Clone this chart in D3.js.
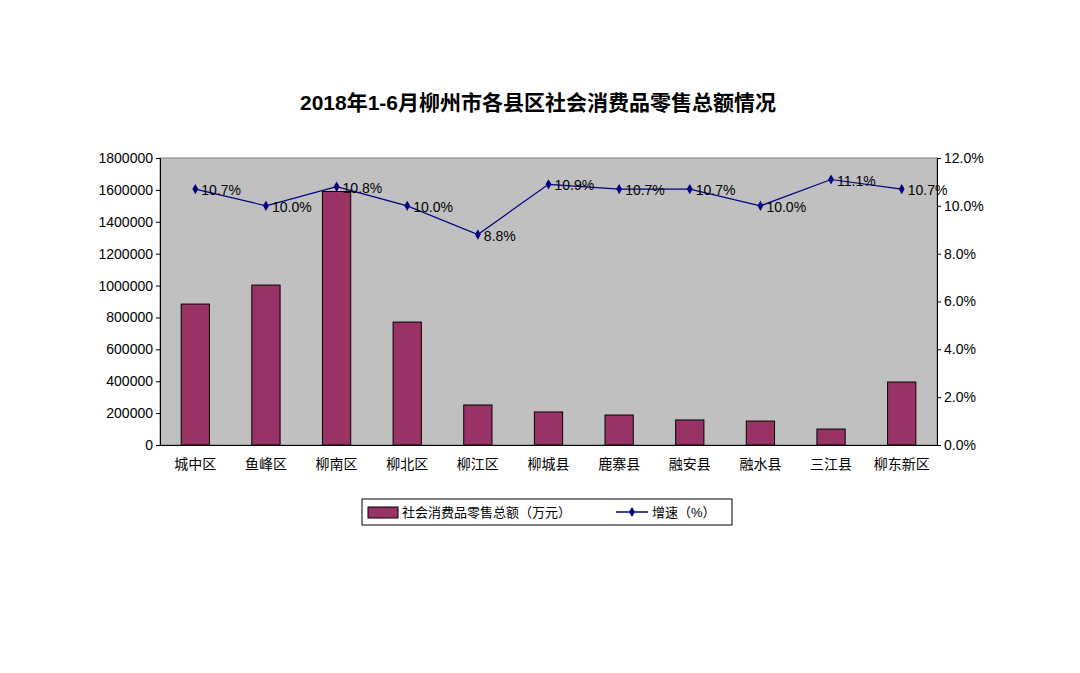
<!DOCTYPE html>
<html><head><meta charset="utf-8">
<script src="https://cdn.jsdelivr.net/npm/d3@7"></script>
<style>body{margin:0;background:#fff}text{font-family:"Liberation Sans","Noto Sans CJK SC",sans-serif}</style>
</head><body>
<script>
const categories = ['城中区','鱼峰区','柳南区','柳北区','柳江区','柳城县','鹿寨县','融安县','融水县','三江县','柳东新区']
const sales = [884000, 1003000, 1590000, 771000, 251000, 207000, 188000, 157000, 150000, 100000, 395000]
const growth = [10.7, 10.0, 10.8, 10.0, 8.8, 10.9, 10.7, 10.7, 10.0, 11.1, 10.7]
const leftTicks = [0,200000,400000,600000,800000,1000000,1200000,1400000,1600000,1800000]
const rightTicks = [0,2,4,6,8,10,12]

const draw = () => {
    let w = 1080, h = 673
    let m = {l: 160, r: 937, t: 158, b: 445}
    let svg = d3.select('body').append('svg').attr('width', w).attr('height', h)

    svg.append('text').attr('x', 538).attr('y', 110).attr('text-anchor', 'middle')
        .attr('font-size', 21).attr('font-weight', 'bold').text('2018年1-6月柳州市各县区社会消费品零售总额情况')

    let x = d3.scaleBand().domain(categories).range([m.l, m.r]).paddingInner(0.6).paddingOuter(0.3)
    let y = d3.scaleLinear().domain([0, 1800000]).range([m.b, m.t])
    let y2 = d3.scaleLinear().domain([0, 12]).range([m.b, m.t])

    svg.append('rect').attr('x', m.l).attr('y', m.t).attr('width', m.r - m.l).attr('height', m.b - m.t)
        .attr('fill', '#c0c0c0').attr('stroke', '#808080')

    let yl = svg.append('g').attr('transform', `translate(${m.l},0)`)
        .call(d3.axisLeft(y).tickValues(leftTicks).tickFormat(d3.format('d')).tickSize(4))
    let yr = svg.append('g').attr('transform', `translate(${m.r},0)`)
        .call(d3.axisRight(y2).tickValues(rightTicks).tickFormat(d => d.toFixed(1) + '%').tickSize(4))
    let xa = svg.append('g').attr('transform', `translate(0,${m.b})`)
        .call(d3.axisBottom(x).tickSize(0).tickPadding(14))
    ;[yl, yr, xa].forEach(g => {
        g.selectAll('path,line').attr('stroke', '#000')
        g.selectAll('text').attr('font-size', 14).attr('fill', '#000')
    })

    svg.selectAll('.bar').data(sales).enter().append('rect')
        .attr('x', (d, i) => x(categories[i])).attr('width', x.bandwidth())
        .attr('y', d => y(d)).attr('height', d => m.b - y(d))
        .attr('fill', '#993366').attr('stroke', '#000').attr('stroke-width', 1)

    let cx = i => x(categories[i]) + x.bandwidth() / 2
    svg.append('path').datum(growth)
        .attr('d', d3.line().x((d, i) => cx(i)).y(d => y2(d)))
        .attr('fill', 'none').attr('stroke', '#000080').attr('stroke-width', 1.2)
    svg.selectAll('.pt').data(growth).enter().append('path')
        .attr('transform', (d, i) => `translate(${cx(i)},${y2(d)})`)
        .attr('d', d3.symbol(d3.symbolDiamond, 30)).attr('fill', '#000080')
    svg.selectAll('.lbl').data(growth).enter().append('text')
        .attr('x', (d, i) => cx(i) + 6).attr('y', d => y2(d) + 6)
        .attr('font-size', 14).text(d => d.toFixed(1) + '%')

    // legend
    let lg = svg.append('g').attr('transform', 'translate(362,499)')
    lg.append('rect').attr('width', 370).attr('height', 26).attr('fill', '#fff').attr('stroke', '#000')
    lg.append('rect').attr('x', 6).attr('y', 8).attr('width', 30).attr('height', 11).attr('fill', '#993366').attr('stroke', '#000')
    lg.append('text').attr('x', 40).attr('y', 18).attr('font-size', 13).text('社会消费品零售总额（万元）')
    lg.append('line').attr('x1', 254).attr('x2', 286).attr('y1', 13).attr('y2', 13).attr('stroke', '#000080').attr('stroke-width', 1.5)
    lg.append('path').attr('transform', 'translate(270,13)').attr('d', d3.symbol(d3.symbolDiamond, 30)).attr('fill', '#000080')
    lg.append('text').attr('x', 290).attr('y', 18).attr('font-size', 13).text('增速（%）')
}
draw()
</script>
</body></html>
